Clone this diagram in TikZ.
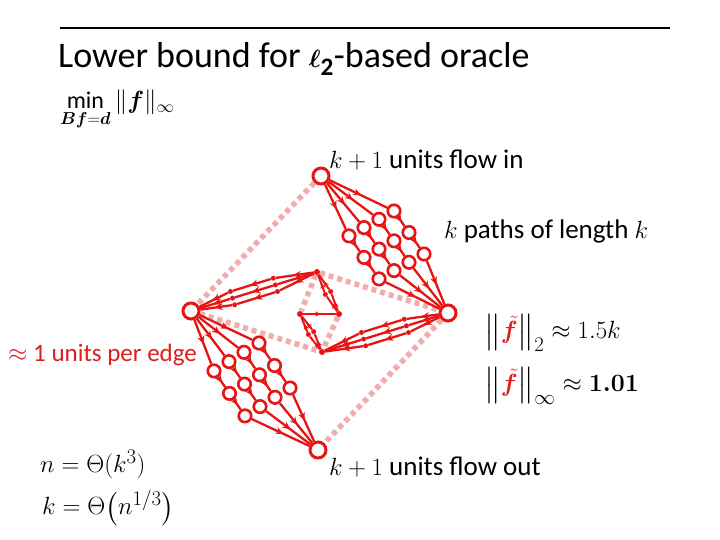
\documentclass[tikz,border=0pt]{standalone}
\usepackage{amsmath, amssymb, bm}
\usepackage{fontspec}
\setmainfont{Carlito}
\usetikzlibrary{decorations.markings, arrows.meta, calc}

\definecolor{flowred}{RGB}{232,20,20}
\definecolor{cutpink}{RGB}{242,172,172}
\definecolor{txtred}{RGB}{220,30,30}

\tikzset{
  big/.style={circle, draw=flowred, fill=white, line width=3pt, minimum size=16pt, inner sep=0pt},
  sm/.style={circle, draw=flowred, fill=white, line width=2.6pt, minimum size=12.5pt, inner sep=0pt},
  dot/.style={circle, fill=flowred, minimum size=6pt, inner sep=0pt},
  tiny/.style={circle, fill=flowred, minimum size=5pt, inner sep=0pt},
  flow/.style={draw=flowred, line width=2.3pt, postaction=decorate,
    decoration={markings, mark=at position 0.55 with {\arrow{Stealth[length=8pt,width=7pt]}}}},
  fine/.style={draw=flowred, line width=2pt, postaction=decorate,
    decoration={markings, mark=at position 0.55 with {\arrow{Stealth[length=6pt,width=5pt]}}}},
  cut/.style={draw=cutpink, line width=5.5pt, dash pattern=on 5pt off 4pt},
  lbl/.style={anchor=west, inner sep=0pt, font=\fontsize{27}{32}\selectfont},
}

\begin{document}
\begin{tikzpicture}[x=1pt, y=-1pt]
  \useasboundingbox (0,0) rectangle (720,540);
  \draw[line width=2pt] (60,28) -- (670,28);
  \node[anchor=west, inner sep=0pt, font=\fontsize{36}{40}\selectfont] (title) at (58,59)
    {Lower bound for $\boldsymbol{\ell}_{\mathbf{2}}$-based oracle};
  \node[anchor=west, inner sep=0pt, font=\fontsize{24}{28}\selectfont] (obj) at (60,110)
    {$\displaystyle\min_{\boldsymbol{Bf}=\boldsymbol{d}}\|\boldsymbol{f}\|_\infty$};

  % corners of the big diamond
  \node[big] (vin) at (321,176) {};
  \node[big] (vr) at (448,313) {};
  \node[big] (vout) at (318,450) {};
  \node[big] (vl) at (191,311) {};
  % corners of the small one
  \node[dot] (ua) at (317,272) {};
  \node[dot] (ub) at (339,314) {};
  \node[dot] (uc) at (300,314) {};
  \node[dot] (ud) at (322,352) {};

  % cut edges
  \draw[cut] (vin) -- (vl);
  \draw[cut] (vr) -- (vout);
  \draw[cut] (vl) -- (ud);
  \draw[cut] (ua) -- (vr);
  \draw[cut] (ua) -- (uc);
  \draw[cut] (ub) -- (ud);

  % k+1 paths, top and bottom
  \foreach \i in {0,...,3} {
    \foreach \j in {0,...,2} {
      \node[sm] (a\i\j) at ($(vin)+(73,35)+\i*(-15,8.3)+\j*(15,21.5)$) {};
      \node[sm] (b\i\j) at ($(vl)+(68,32)+\i*(-15,9.3)+\j*(15.5,22.5)$) {};
    }
    \draw[flow] (vin) -- (a\i0);
    \draw[flow] (a\i0) -- (a\i1);
    \draw[flow] (a\i1) -- (a\i2);
    \draw[flow] (a\i2) -- (vr);
    \draw[flow] (vl) -- (b\i0);
    \draw[flow] (b\i0) -- (b\i1);
    \draw[flow] (b\i1) -- (b\i2);
    \draw[flow] (b\i2) -- (vout);
  }

  % middle bundles
  \foreach \o [count=\n] in {-7,0,7} {
    \node[tiny] (c\n) at ($(ua)!0.33!(vl)+(\o*0.3,\o*0.95)$) {};
    \node[tiny] (d\n) at ($(ua)!0.67!(vl)+(\o*0.3,\o*0.95)$) {};
    \node[tiny] (e\n) at ($(vr)!0.33!(ud)+(\o*0.3,\o*0.95)$) {};
    \node[tiny] (f\n) at ($(vr)!0.67!(ud)+(\o*0.3,\o*0.95)$) {};
    \draw[flow] (ua) -- (c\n);
    \draw[flow] (c\n) -- (d\n);
    \draw[flow] (d\n) -- (vl);
    \draw[flow] (vr) -- (e\n);
    \draw[flow] (e\n) -- (f\n);
    \draw[flow] (f\n) -- (ud);
  }
  \foreach \o [count=\n] in {-3,3} {
    \node[tiny] (g\n) at ($(ud)!0.5!(uc)+(\o*0.89,-\o*0.47)$) {};
    \node[tiny] (h\n) at ($(ub)!0.5!(ua)+(\o*0.89,-\o*0.47)$) {};
    \draw[fine] (ud) -- (g\n);
    \draw[fine] (g\n) -- (uc);
    \draw[fine] (ub) -- (h\n);
    \draw[fine] (h\n) -- (ua);
  }
  \draw[fine] (uc) -- (ub);

  \node[lbl] (fin) at (329,160) {$k+1$ units flow in};
  \node[lbl] (kpaths) at (444,231) {$k$ paths of length $k$};
  \node[lbl] (fout) at (329,467) {$k+1$ units flow out};
  \node[lbl, text=txtred, font=\fontsize{25}{30}\selectfont] (peredge) at (8,355)
    {$\approx$ 1 units per edge};
  \node[lbl, font=\fontsize{30}{34}\selectfont] (ltwo) at (484,333)
    {$\bigl\|{\color{txtred}\tilde{\boldsymbol{f}}}\bigr\|_2\approx 1.5k$};
  \node[lbl, font=\fontsize{30}{34}\selectfont] (linf) at (484,386)
    {$\bigl\|{\color{txtred}\tilde{\boldsymbol{f}}}\bigr\|_\infty\approx \boldsymbol{1.01}$};
  \node[lbl, font=\fontsize{28}{32}\selectfont] (ntheta) at (40,464) {$n=\Theta(k^3)$};
  \node[lbl, font=\fontsize{28}{32}\selectfont] (ktheta) at (42,508) {$k=\Theta\bigl(n^{1/3}\bigr)$};
\end{tikzpicture}
\end{document}
